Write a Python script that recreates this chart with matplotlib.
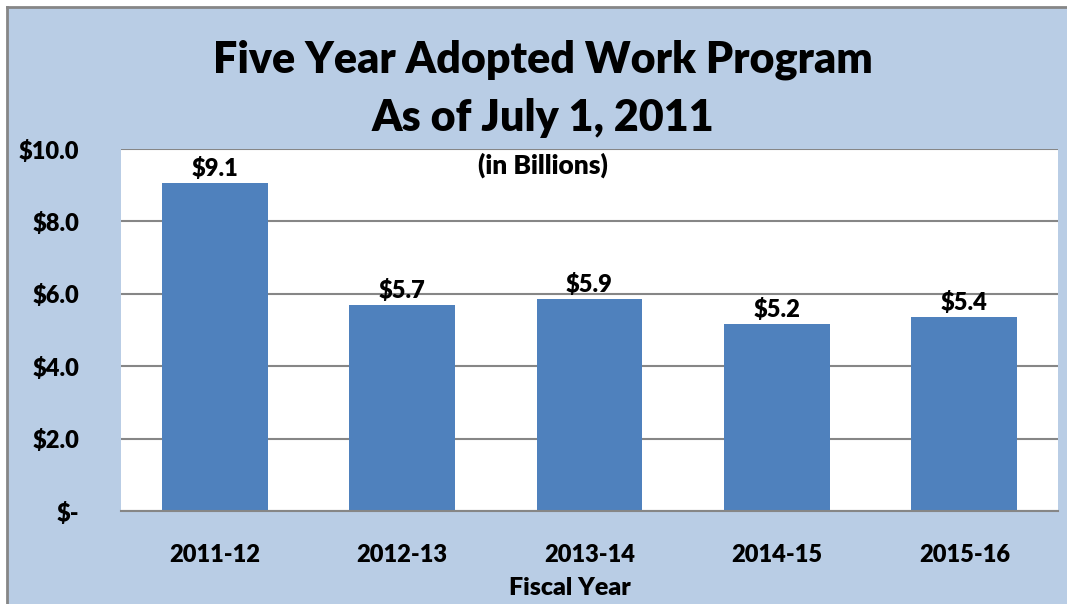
import matplotlib
matplotlib.use("Agg")
import matplotlib.pyplot as plt
from matplotlib.patches import Rectangle
from matplotlib.lines import Line2D

years = ["2011-12", "2012-13", "2013-14", "2014-15", "2015-16"]
values = [9.06, 5.69, 5.86, 5.17, 5.36]
labels = ["$9.1", "$5.7", "$5.9", "$5.2", "$5.4"]
yticks = [0, 2, 4, 6, 8, 10]
yticklabels = ["$-", "$2.0", "$4.0", "$6.0", "$8.0", "$10.0"]

BG = "#B9CDE5"
BAR = "#4F81BD"
GRID = "#868686"

plt.rcParams["font.family"] = ["Lato", "DejaVu Sans"]
plt.rcParams["font.weight"] = "heavy"
WT = "heavy"

W, H = 1067, 604
fig = plt.figure(figsize=(W / 100, H / 100), dpi=100)
fig.patch.set_facecolor("white")
# chart-area background, only top and left edges of its frame are in view
fig.patches.append(Rectangle((7 / W, 0), 1, 1 - 7 / H, transform=fig.transFigure,
                             facecolor=BG, edgecolor="none", zorder=-5))
fig.lines.append(Line2D([7 / W, 1], [1 - 7 / H, 1 - 7 / H], transform=fig.transFigure,
                        color=GRID, linewidth=2, zorder=-4))
fig.lines.append(Line2D([7 / W, 7 / W], [0, 1 - 7 / H], transform=fig.transFigure,
                        color=GRID, linewidth=2, zorder=-4))

ax = fig.add_axes([121 / W, 1 - 511 / H, (1058 - 121) / W, (511 - 149) / H])
ax.set_facecolor("white")
x = range(len(years))
ax.bar(x, values, width=0.565, color=BAR, zorder=3)
for i, (v, t) in enumerate(zip(values, labels)):
    ax.text(i, v + 0.08, t, ha="center", va="bottom", fontsize=17, fontweight=WT)

ax.set_xlim(-0.5, len(years) - 0.5)
ax.set_ylim(0, 10)
ax.set_yticks(yticks)
ax.set_yticklabels(yticklabels)
ax.set_xticks(list(x))
ax.set_xticklabels(years)
ax.tick_params(length=0, labelsize=17)
ax.tick_params(axis="y", pad=30)
ax.tick_params(axis="x", pad=24)
for lab in ax.get_xticklabels() + ax.get_yticklabels():
    lab.set_fontweight(WT)
ax.grid(axis="y", color=GRID, linewidth=1.5, zorder=1)
for s in ["left", "right", "top"]:
    ax.spines[s].set_visible(False)
ax.spines["bottom"].set_color(GRID)
ax.spines["bottom"].set_linewidth(1.5)
ax.spines["bottom"].set_zorder(4)

fig.text(543 / W, 1 - 60 / H, "Five Year Adopted Work Program", ha="center", va="center",
         fontsize=31, fontweight=WT)
fig.text(543 / W, 1 - 118 / H, "As of July 1, 2011", ha="center", va="center",
         fontsize=31, fontweight=WT)
fig.text(543 / W, 1 - 165 / H, "(in Billions)", ha="center", va="center",
         fontsize=19, fontweight=WT)
fig.text(570 / W, 1 - 588 / H, "Fiscal Year", ha="center", va="center",
         fontsize=18, fontweight=WT)

fig.savefig("out.png", dpi=100)
